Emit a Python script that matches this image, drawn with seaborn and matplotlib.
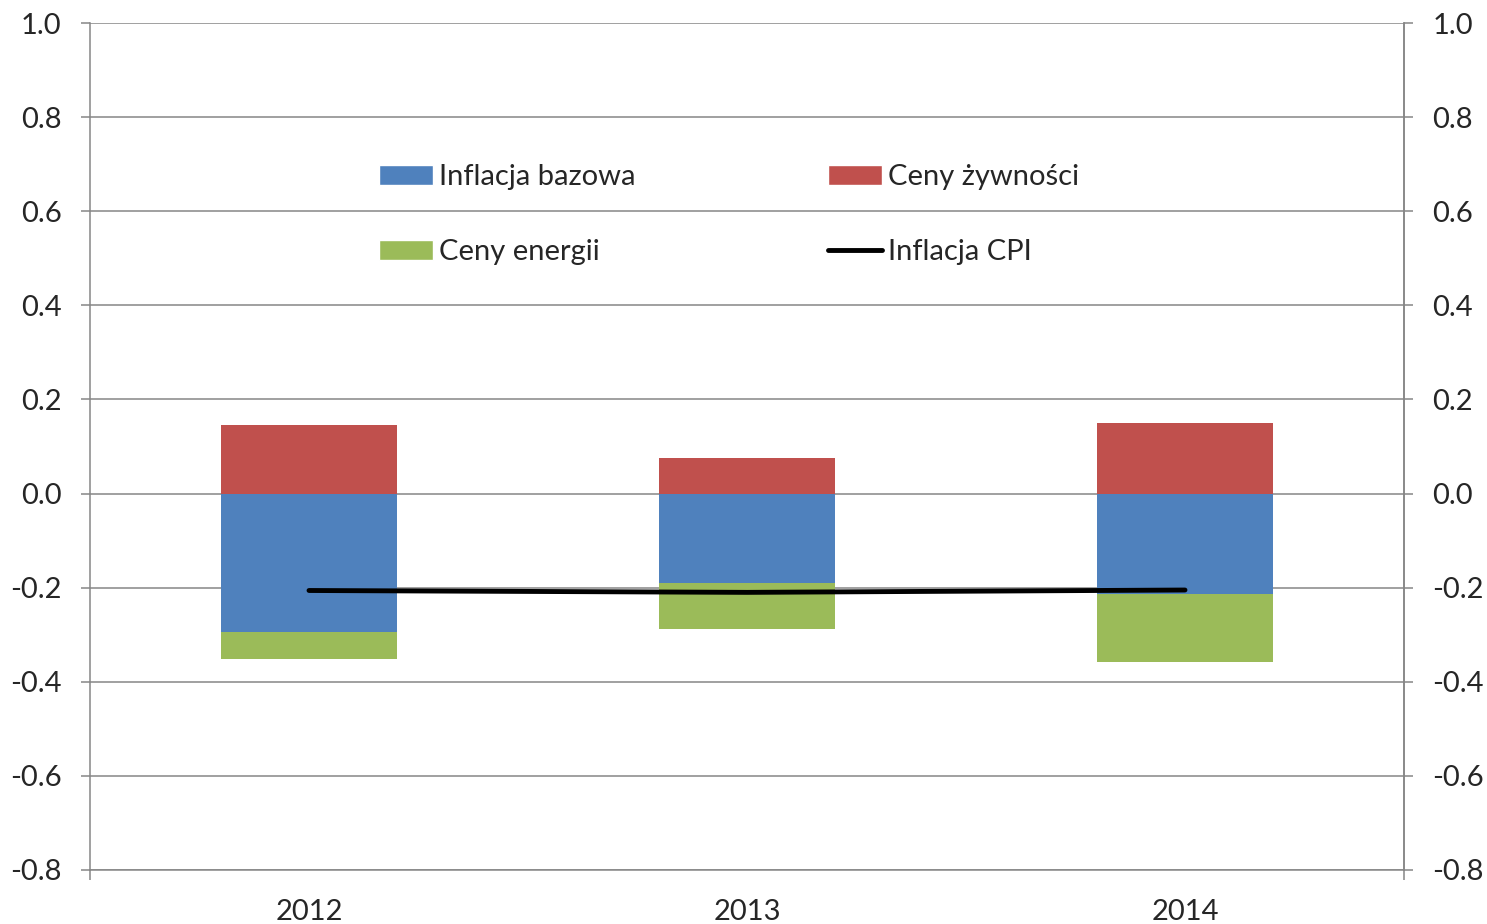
import matplotlib
matplotlib.use("Agg")
import matplotlib.pyplot as plt
import numpy as np
import seaborn as sns
import pandas as pd
from matplotlib.patches import Patch
from matplotlib.lines import Line2D

years = ["2012", "2013", "2014"]
inflacja_bazowa = [-0.294, -0.191, -0.213]
ceny_zywnosci = [0.145, 0.076, 0.150]
ceny_energii = [-0.057, -0.096, -0.145]
inflacja_cpi = [-0.206, -0.210, -0.205]

blue = "#4F81BD"
red = "#C0504D"
green = "#9BBB59"
grid_col = "#868686"

sns.set_style("white")
plt.rcParams["font.family"] = ["Lato", "DejaVu Sans"]
fs = 21

df = pd.DataFrame({
    "rok": years,
    "bazowa": inflacja_bazowa,
    "zywnosc": ceny_zywnosci,
    "energia": ceny_energii,
    "cpi": inflacja_cpi,
})
# green sits below blue -> draw the total first, then blue over it
df["dol"] = df["bazowa"] + df["energia"]

fig = plt.figure(figsize=(14.87, 9.24), dpi=100)
ax = fig.add_axes([90 / 1487, 54 / 924, 1314 / 1487, 847 / 924])

bar_kw = dict(width=0.4, saturation=1, linewidth=0, edgecolor="none", ax=ax, zorder=2)
sns.barplot(data=df, x="rok", y="dol", color=green, **bar_kw)
sns.barplot(data=df, x="rok", y="bazowa", color=blue, **bar_kw)
sns.barplot(data=df, x="rok", y="zywnosc", color=red, **bar_kw)
sns.lineplot(x=np.arange(len(years)), y=df["cpi"], color="black", linewidth=3.5,
             solid_capstyle="round", ax=ax, zorder=3)

ax.set_ylim(-0.8, 1.0)
ax.set_xlim(-0.5, 2.5)
yt = np.round(np.arange(-0.8, 1.01, 0.2), 1)
ylabels = [f"{abs(v) if v == 0 else v:.1f}" for v in yt]
ax.set_yticks(yt)
ax.set_yticklabels(ylabels)
ax.yaxis.grid(True, color=grid_col, linewidth=1.1, zorder=0)
ax.set_axisbelow(True)
ax.set_xlabel("")
ax.set_ylabel("")

for s in ["left", "right", "bottom"]:
    ax.spines[s].set_color(grid_col)
    ax.spines[s].set_linewidth(1.1)
ax.spines["top"].set_visible(False)

ax.tick_params(axis="y", length=6.5, width=1.1, color=grid_col, pad=14, labelsize=fs, direction="out", left=True)
ax.set_xticks([-0.5, 2.5], minor=True)
ax.tick_params(axis="x", which="minor", length=7, width=1.1, color=grid_col, direction="out", bottom=True)
ax.tick_params(axis="x", which="major", length=0, pad=21, labelsize=fs)

ax2 = ax.twinx()
ax2.set_ylim(ax.get_ylim())
ax2.set_yticks(yt)
ax2.set_yticklabels(ylabels)
ax2.tick_params(axis="y", length=6.5, width=1.1, color=grid_col, pad=14, labelsize=fs, direction="out", right=True)
for s in ["left", "top", "bottom"]:
    ax2.spines[s].set_visible(False)
ax2.spines["right"].set_color(grid_col)
ax2.spines["right"].set_linewidth(1.1)

handles = [
    Patch(facecolor=blue, label="Inflacja bazowa"),
    Patch(facecolor=green, label="Ceny energii"),
    Patch(facecolor=red, label="Ceny żywności"),
    Line2D([0], [0], color="black", linewidth=3.5, label="Inflacja CPI"),
]
leg = ax.legend(handles=handles, ncol=2, frameon=False, fontsize=fs,
                loc="upper left", bbox_to_anchor=(0.2, 0.864),
                handlelength=1.85, handleheight=0.7, handletextpad=0.2,
                columnspacing=6.6, labelspacing=1.68)

fig.savefig("out.png", dpi=100)
